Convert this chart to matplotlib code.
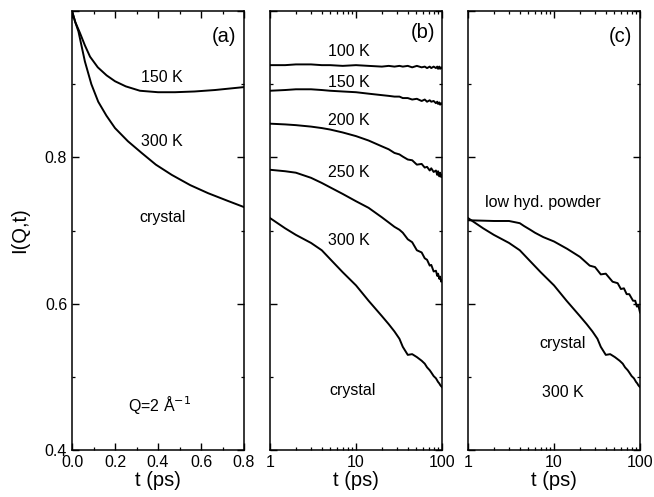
import matplotlib
matplotlib.use("Agg")
import matplotlib.pyplot as plt
from matplotlib.ticker import MultipleLocator, LogLocator, NullFormatter, FixedLocator

plt.rcParams.update({
    "font.family": ["Liberation Sans", "DejaVu Sans"],
    "font.size": 11.5,
    "axes.linewidth": 1.1,
    "xtick.direction": "in",
    "ytick.direction": "in",
    "xtick.top": True,
    "ytick.right": True,
})

# ---- panel (a): short times, linear axis ----
t_a_150 = [0.0, 0.015, 0.037, 0.06, 0.084, 0.12, 0.161, 0.2, 0.25, 0.316, 0.40, 0.479, 0.57, 0.665, 0.80]
i_a_150 = [1.0, 0.985, 0.970, 0.953, 0.9375, 0.923, 0.912, 0.904, 0.897, 0.891, 0.889, 0.889, 0.890, 0.892, 0.896]

t_a_300 = [0.0, 0.015, 0.03, 0.06, 0.09, 0.122, 0.16, 0.2, 0.26, 0.324, 0.39, 0.464, 0.55, 0.633, 0.72, 0.80]
i_a_300 = [1.0, 0.985, 0.972, 0.931, 0.900, 0.876, 0.857, 0.840, 0.822, 0.806, 0.790, 0.776, 0.762, 0.751, 0.741, 0.732]

# ---- panel (b): crystal, log time axis ----
t_b = [1, 1.5, 2, 3, 4, 5, 7, 10, 14, 20, 24, 28, 32, 35, 40, 45, 51, 58, 63, 67, 72,
       75, 80, 85, 88, 90, 93, 95, 98, 100]
i_b_100 = [0.926, 0.926, 0.927, 0.927, 0.926, 0.926, 0.925, 0.926, 0.925, 0.924, 0.925, 0.924,
           0.925, 0.924, 0.925, 0.923, 0.925, 0.923, 0.924, 0.922, 0.924, 0.922, 0.924, 0.922,
           0.924, 0.921, 0.924, 0.921, 0.923, 0.922]
i_b_150 = [0.891, 0.892, 0.893, 0.893, 0.892, 0.891, 0.890, 0.889, 0.887, 0.885, 0.884, 0.883,
           0.883, 0.881, 0.881, 0.879, 0.880, 0.877, 0.879, 0.876, 0.878, 0.876, 0.877, 0.874,
           0.876, 0.873, 0.875, 0.872, 0.874, 0.873]
i_b_200 = [0.846, 0.845, 0.844, 0.842, 0.840, 0.838, 0.834, 0.829, 0.823, 0.815, 0.811, 0.806,
           0.804, 0.801, 0.797, 0.796, 0.790, 0.791, 0.786, 0.787, 0.782, 0.785, 0.780, 0.782,
           0.776, 0.781, 0.774, 0.779, 0.773, 0.776]
i_b_250 = [0.783, 0.781, 0.779, 0.772, 0.765, 0.759, 0.750, 0.740, 0.731, 0.718, 0.711, 0.705,
           0.701, 0.697, 0.688, 0.684, 0.673, 0.670, 0.662, 0.660, 0.652, 0.653, 0.644, 0.645,
           0.638, 0.641, 0.634, 0.637, 0.630, 0.632]
i_b_300 = [0.717, 0.703, 0.694, 0.683, 0.673, 0.661, 0.643, 0.625, 0.604, 0.583, 0.572, 0.562,
           0.552, 0.541, 0.530, 0.531, 0.527, 0.522, 0.518, 0.513, 0.509, 0.506, 0.501, 0.498,
           0.495, 0.493, 0.491, 0.489, 0.487, 0.486]

# ---- panel (c): low hydration powder vs crystal at 300 K ----
t_c_pow = [1, 2, 3, 4.0, 4.5, 5.3, 6, 7.5, 10, 14.2, 20, 26, 30, 35, 40, 48, 55, 60, 65,
           70, 75, 83, 88, 92, 96, 100]
i_c_pow = [0.714, 0.713, 0.713, 0.710, 0.706, 0.701, 0.697, 0.691, 0.685, 0.675, 0.664, 0.652,
           0.650, 0.640, 0.641, 0.630, 0.628, 0.620, 0.621, 0.613, 0.613, 0.604, 0.604, 0.596,
           0.597, 0.588]

b_labels = ["100 K", "150 K", "200 K", "250 K", "300 K"]
b_label_y = [0.944, 0.902, 0.851, 0.779, 0.687]

fig = plt.figure(figsize=(6.54, 4.97), dpi=100)
W, H = 654, 497
ax_a = fig.add_axes([72 / W, 47 / H, 172 / W, 439 / H])
ax_b = fig.add_axes([270 / W, 47 / H, 172 / W, 439 / H])
ax_c = fig.add_axes([468 / W, 47 / H, 172 / W, 439 / H])

lw = 1.4
ax_a.plot(t_a_150, i_a_150, color="black", lw=lw)
ax_a.plot(t_a_300, i_a_300, color="black", lw=lw)

for y in (i_b_100, i_b_150, i_b_200, i_b_250, i_b_300):
    ax_b.plot(t_b, y, color="black", lw=lw)

ax_c.plot(t_c_pow, i_c_pow, color="black", lw=lw)
ax_c.plot(t_b, i_b_300, color="black", lw=lw)

for ax in (ax_a, ax_b, ax_c):
    ax.set_ylim(0.4, 1.0)
    ax.yaxis.set_major_locator(FixedLocator([0.4, 0.6, 0.8, 1.0]))
    ax.yaxis.set_minor_locator(FixedLocator([0.5, 0.7, 0.9]))
    ax.tick_params(which="major", length=5, width=1.0, labelsize=11.5)
    ax.tick_params(which="minor", length=2.5, width=0.9)
    ax.set_xlabel("t (ps)", fontsize=14.5, labelpad=1)

ax_a.set_xlim(0, 0.8)
ax_a.xaxis.set_major_locator(MultipleLocator(0.2))
ax_a.xaxis.set_minor_locator(MultipleLocator(0.1))
ax_a.set_yticklabels(["0.4", "0.6", "0.8", ""])
ax_a.set_ylabel("I(Q,t)", fontsize=14.5)
ax_a.yaxis.set_label_coords(-0.25, 0.5)

for ax in (ax_b, ax_c):
    ax.set_xscale("log")
    ax.set_xlim(1, 100)
    ax.xaxis.set_major_locator(FixedLocator([1, 10, 100]))
    ax.xaxis.set_minor_locator(LogLocator(base=10, subs=range(2, 10)))
    ax.xaxis.set_minor_formatter(NullFormatter())
    ax.set_xticklabels(["1", "10", "100"])
    ax.set_yticklabels([])

# annotations
ax_a.text(0.884, 0.941, "(a)", transform=ax_a.transAxes, ha="center", va="center", fontsize=14.5)
ax_a.text(0.42, 0.909, "150 K", ha="center", va="center")
ax_a.text(0.42, 0.821, "300 K", ha="center", va="center")
ax_a.text(0.42, 0.718, "crystal", ha="center", va="center")
ax_a.text(0.41, 0.462, "Q=2 Å$^{-1}$", ha="center", va="center")

ax_b.text(0.89, 0.95, "(b)", transform=ax_b.transAxes, ha="center", va="center", fontsize=14.5)
for lab, y in zip(b_labels, b_label_y):
    ax_b.text(8.3, y, lab, ha="center", va="center")
ax_b.text(9.0, 0.481, "crystal", ha="center", va="center")

ax_c.text(0.884, 0.941, "(c)", transform=ax_c.transAxes, ha="center", va="center", fontsize=14.5)
ax_c.text(7.5, 0.738, "low hyd. powder", ha="center", va="center")
ax_c.text(12.7, 0.546, "crystal", ha="center", va="center")
ax_c.text(12.7, 0.479, "300 K", ha="center", va="center")

fig.savefig("out.png", dpi=100)
